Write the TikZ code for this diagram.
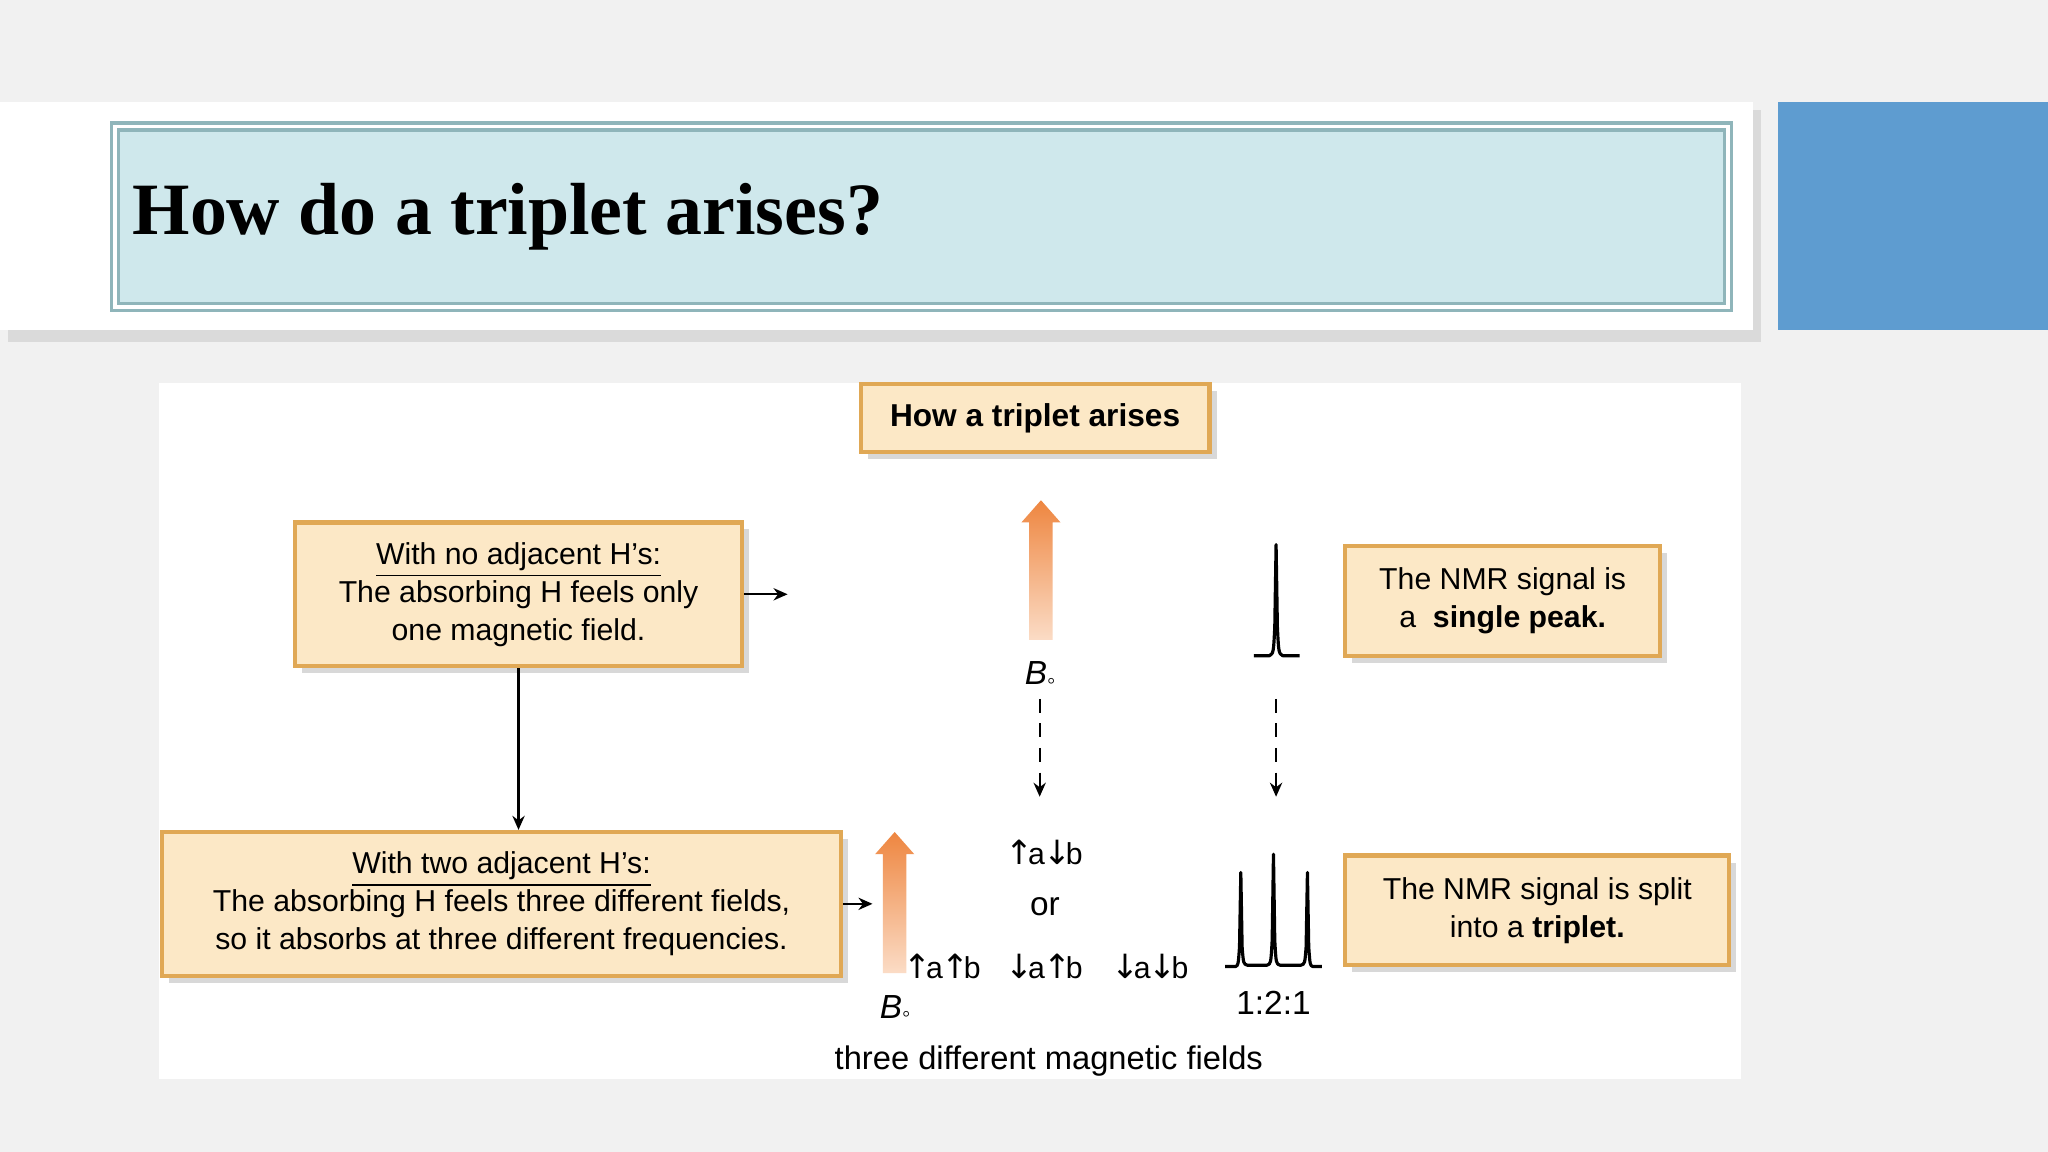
\documentclass[tikz,border=0pt]{standalone}
\usepackage{fontspec}
\setmainfont{Liberation Sans}
\newfontfamily\titlefont{Liberation Serif}
\newfontfamily\arrfont{DejaVu Sans}
\usetikzlibrary{shadows,arrows.meta}
\definecolor{bg}{HTML}{F1F1F1}
\definecolor{blueblk}{HTML}{5E9CD0}
\definecolor{titlefill}{HTML}{CFE8EC}
\definecolor{titleline}{HTML}{8FB5BA}
\definecolor{boxfill}{HTML}{FCE8C6}
\definecolor{boxline}{HTML}{E0A855}
\definecolor{orangetop}{HTML}{EE8640}
\definecolor{orangebot}{HTML}{FBDCC6}
\tikzset{
  box/.style={draw=boxline, line width=1.2pt, fill=boxfill, align=center, font=\fontsize{8.6}{10.8}\selectfont, inner sep=0pt,
     drop shadow={shadow xshift=2pt, shadow yshift=-2pt, fill=gray!50, opacity=0.6}},
  lbl/.style={inner sep=0pt, font=\fontsize{8.6}{10.8}\selectfont},
  conn/.style={-{Stealth[length=4pt,width=3.5pt]}, line width=0.6pt},
  dconn/.style={conn, dash pattern=on 4pt off 3pt},
  peak/.style={line width=0.9pt, line join=round},
}
\newcommand{\BigArrow}[3]{% x, tip y, base y
  \shade[top color=orangetop, bottom color=orangebot]
    ({#1-9},#3) -- ({#1-9},{#2+17}) -- ({#1-15},{#2+17}) -- (#1,#2) -- ({#1+15},{#2+17}) -- ({#1+9},{#2+17}) -- ({#1+9},#3) -- cycle;}
\newcommand{\up}{{\arrfont\fontsize{9.5}{10}\selectfont\kern-0.5pt↑\kern-1.5pt}}
\newcommand{\dn}{{\arrfont\fontsize{9.5}{10}\selectfont\kern-0.5pt↓\kern-1.5pt}}
\begin{document}
\begin{tikzpicture}[x=0.013061cm, y=-0.013061cm]
\useasboundingbox (0,0) rectangle (1568,882);
\fill[bg] (0,0) rectangle (1568,882);
% header band
\fill[gray!40, opacity=0.6] (6,84) rectangle (1348,262);
\fill[white] (0,78) rectangle (1342,253);
\fill[blueblk] (1361,78) rectangle (1568,253);
\node[draw=titleline, double=white, double distance=1pt, line width=1pt, fill=titlefill,
  minimum width={1235*0.013061cm}, minimum height={138*0.013061cm}, inner sep=0pt] (titlebox) at (705.5,166) {};
\node[anchor=west, inner sep=0pt, font=\titlefont\bfseries\fontsize{21}{24}\selectfont] (title) at (101,166) {How do a triplet arises?};
% diagram area
\fill[white] (122,293) rectangle (1333,826);
\node[box, minimum width={267*0.013061cm}, minimum height={52*0.013061cm}, font=\bfseries\fontsize{9}{11}\selectfont] (head) at (792.5,320) {How a triplet arises};
\node[box, minimum width={342*0.013061cm}, minimum height={110*0.013061cm}] (b1) at (397,455)
  {\underline{With no adjacent H's:}\\The absorbing H feels only\\one magnetic field.};
\node[box, minimum width={520*0.013061cm}, minimum height={110*0.013061cm}] (b2) at (384,692)
  {\underline{With two adjacent H's:}\\The absorbing H feels three different fields,\\so it absorbs at three different frequencies.};
\node[box, minimum width={241*0.013061cm}, minimum height={84*0.013061cm}] (b3) at (1150.5,460)
  {The NMR signal is\\a \ \textbf{single peak.}};
\node[box, minimum width={294*0.013061cm}, minimum height={84*0.013061cm}] (b4) at (1177,697)
  {The NMR signal is split\\into a \textbf{triplet.}};
% connectors
\coordinate (e1) at (603,455);
\coordinate (e2) at (668,692);
\draw[conn] (b1.east) -- (e1);
\draw[conn] (b2.east) -- (e2);
\draw[conn] (b1.south) -- (b1.south |- b2.north);
% big arrows
\BigArrow{797}{383}{490}
\BigArrow{685}{637}{745}
\node[lbl, font=\itshape\fontsize{9.5}{12}\selectfont] (B1) at (797,517) {B\textsubscript{\upshape\textopenbullet}};
\node[lbl, font=\itshape\fontsize{9.5}{12}\selectfont] (B2) at (686,772) {B\textsubscript{\upshape\textopenbullet}};
% dashed arrows
\coordinate (d1s) at (796,535); \coordinate (d1e) at (796,610);
\coordinate (d2s) at (977,535); \coordinate (d2e) at (977,610);
\draw[dconn] (d1s) -- (d1e);
\draw[dconn] (d2s) -- (d2e);
% spin labels
\node[lbl] (s1) at (800,653) {\up a\dn b};
\node[lbl, font=\fontsize{9.5}{12}\selectfont] (or) at (800,694) {or};
\node[lbl] (s2) at (722,740) {\up a\up b};
\node[lbl] (s3) at (800,740) {\dn a\up b};
\node[lbl] (s4) at (881,740) {\dn a\dn b};
\node[lbl, font=\fontsize{9.5}{12}\selectfont] (ratio) at (975,768) {1:2:1};
\node[lbl, font=\fontsize{9.3}{12}\selectfont] (cap) at (803,812) {three different magnetic fields};
% single peak
\draw[peak] (960,502) -- (972,502) .. controls (975,500) .. (976,480) -- (977,417) -- (978,480) .. controls (979,500) .. (982,502) -- (995,502);
% triplet
\draw[peak] (938,740) -- (946,740) .. controls (948,739) .. (949,725) -- (950,668) -- (951,725) .. controls (952,738) .. (955,739)
  -- (970,739) .. controls (973,738) .. (974,720) -- (975,654) -- (976,720) .. controls (977,738) .. (980,739)
  -- (996,739) .. controls (999,738) .. (1000,725) -- (1001,668) -- (1002,725) .. controls (1003,739) .. (1005,740) -- (1012,740);
\end{tikzpicture}
\end{document}
